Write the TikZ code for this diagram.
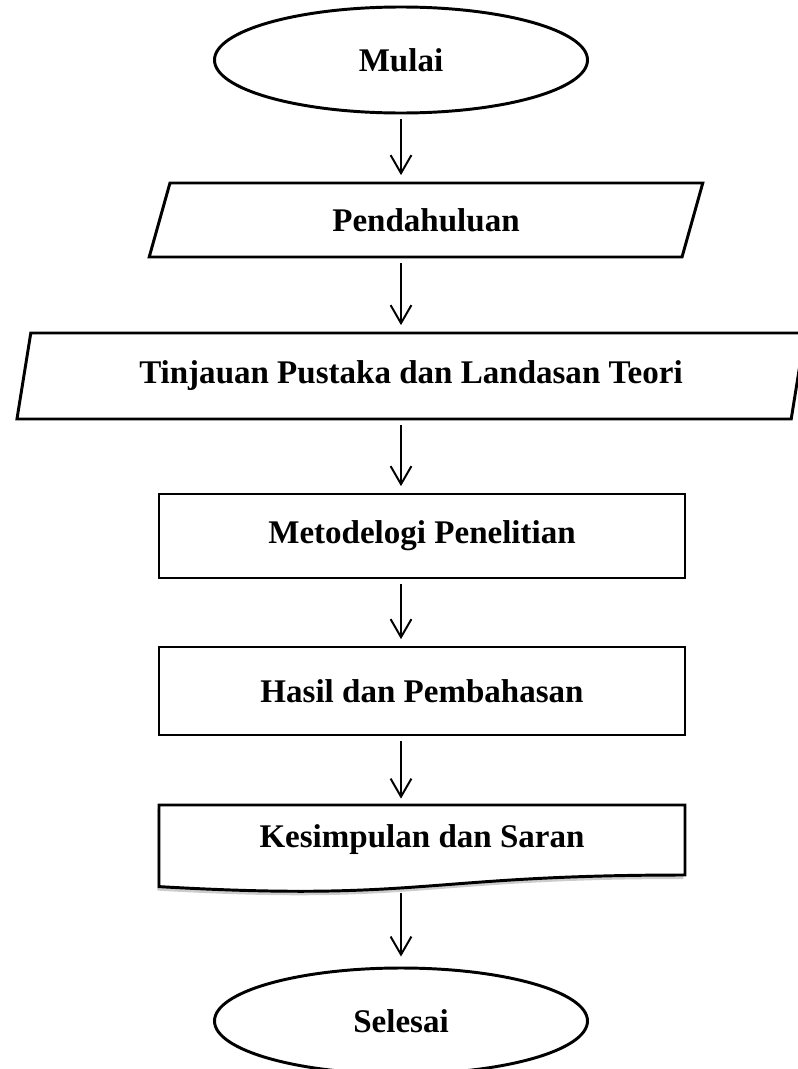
\documentclass[tikz,border=0pt]{standalone}
\usepackage{fontspec}
\setmainfont{Liberation Serif}
\usetikzlibrary{arrows.meta,shapes.geometric,shadows,backgrounds,calc}

\begin{document}
\begin{tikzpicture}[>={Straight Barb[length=0.45cm,width=0.52cm]}, scale=1,
txt/.style ={font=\bfseries\fontsize{23.5}{28}\selectfont, align=center},
ter/.style ={ellipse, draw, line width=2.1pt, txt, minimum width=9.325cm, minimum height=2.65cm},
io/.style ={trapezium, trapezium stretches=true, draw, line width=2.1pt, txt},
pro/.style ={rectangle, draw, line width=2.1pt, txt, minimum width=13.15cm},
flow/.style ={->, line width=1.4pt, shorten <=0.12cm, shorten >=0.16cm}]

\useasboundingbox (0,0) rectangle (19.95,-26.725);

\draw (10.025,-1.5) node[ter] (Mul) {Mulai};
\draw (10.65,-5.5) node[io, trapezium left angle=76.3, trapezium right angle=103.7,
  minimum width=13.85cm, minimum height=1.85cm] (Pend) {Pendahuluan};
\draw (10.275,-9.4) node[io, trapezium left angle=75.65, trapezium right angle=104.35,
  minimum width=19.8cm, minimum height=2.15cm] (Tin) {Tinjauan Pustaka dan Landasan Teori};
\draw (10.55,-13.4) node[pro, minimum height=2.1cm] (Met) {Metodelogi Penelitian};
\draw (10.55,-17.275) node[pro, minimum height=2.2cm] (Has) {Hasil dan Pembahasan};
\draw (10.55,-21.0) node[pro, draw=none, outer sep=0pt, minimum height=1.75cm] (Kes) {Kesimpulan dan Saran};
\draw (10.025,-25.525) node[ter] (Sel) {Selesai};

% bentuk dokumen
\begin{scope}[on background layer]
\draw[line width=2.1pt, fill=white, drop shadow={opacity=0.4, shadow xshift=-0.04cm, shadow yshift=-0.1cm}]
  (Kes.north west) -- (Kes.north east) -- (Kes.south east)
  .. controls (Kes.south) and ($(Kes.south)+(0,-0.67)$) .. ($(Kes.south west)+(0,-0.29)$) -- cycle;
\end{scope}

\draw[flow] (Mul)--(Pend.north -| Mul);
\draw[flow] (Pend.south -| Mul)--(Tin.north -| Mul);
\draw[flow] (Tin.south -| Mul)--(Met.north -| Mul);
\draw[flow] (Met.south -| Mul)--(Has.north -| Mul);
\draw[flow] (Has.south -| Mul)--(Kes.north -| Mul);
\draw[flow, shorten <=0.45cm, shorten >=0.25cm] (Kes.south -| Mul)--(Sel);

\end{tikzpicture}
\end{document}
